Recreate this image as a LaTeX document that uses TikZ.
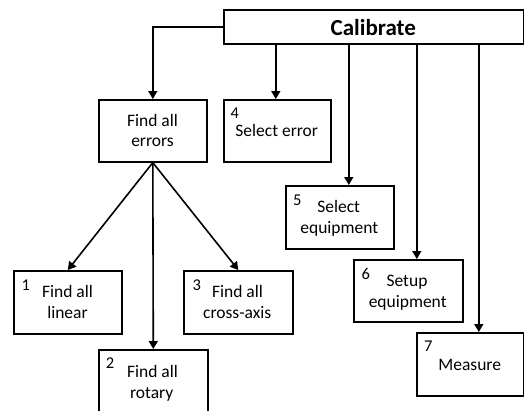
\documentclass[tikz,border=0pt]{standalone}
\usepackage{fontspec}
\setmainfont{Carlito}
\usetikzlibrary{arrows.meta}
\begin{document}
\begin{tikzpicture}[x=1pt,y=-1pt,
  box/.style={draw=black,line width=1.6pt,fill=white,inner sep=0pt,anchor=north west},
  arr/.style={line width=1.6pt,-{Triangle[length=8pt,width=9pt]}},
  txt/.style={inner sep=0pt,anchor=base,font=\fontsize{17.5}{21}\selectfont},
  num/.style={inner sep=0pt,anchor=base west,font=\fontsize{16.5}{20}\selectfont}]
\useasboundingbox (0,0) rectangle (524,410);
\fill[white] (0,0) rectangle (524,410);
% boxes
\node[box,minimum width=300pt,minimum height=34pt] (cal) at (223,9) {};
\node[box,minimum width=108pt,minimum height=62pt] (err) at (98,99) {};
\node[box,minimum width=107pt,minimum height=62pt] (sel) at (223,99) {};
\node[box,minimum width=108pt,minimum height=63pt] (seq) at (285,185) {};
\node[box,minimum width=109pt,minimum height=62pt] (set) at (353,259) {};
\node[box,minimum width=107pt,minimum height=63pt] (mea) at (416,332) {};
\node[box,minimum width=108pt,minimum height=63pt] (lin) at (13,270) {};
\node[box,minimum width=109pt,minimum height=63pt] (crs) at (183,270) {};
\node[box,minimum width=109pt,minimum height=63pt] (rot) at (98,349) {};
% texts
\node[inner sep=0pt,anchor=base,font=\fontsize{23}{27}\selectfont\bfseries] (calT) at (373.3,35) {Calibrate};
\node[txt] (errT1) at (152.5,126) {Find all};
\node[txt] (errT2) at (152.5,146.7) {errors};
\node[num] (selN) at (230.3,118.3) {4};
\node[txt] (selT) at (276.7,136) {Select error};
\node[num] (linN) at (21.3,290) {1};
\node[txt] (linT1) at (67.5,297) {Find all};
\node[txt] (linT2) at (67.5,318) {linear};
\node[num] (crsN) at (192.3,290) {3};
\node[txt] (crsT1) at (237.5,297) {Find all};
\node[txt] (crsT2) at (237.2,318) {cross-axis};
\node[num] (rotN) at (105.6,368) {2};
\node[txt] (rotT1) at (152.5,377) {Find all};
\node[txt] (rotT2) at (151.7,398) {rotary};
\node[num] (seqN) at (292.9,205) {5};
\node[txt] (seqT1) at (338.7,212.7) {Select};
\node[txt] (seqT2) at (339.3,233.3) {equipment};
\node[num] (setN) at (361.3,279) {6};
\node[txt] (setT1) at (407,286.7) {Setup};
\node[txt] (setT2) at (407.7,307.3) {equipment};
\node[num] (meaN) at (423.9,351.7) {7};
\node[txt] (meaT) at (469.7,370) {Measure};
% connector entry points
\coordinate (selin) at ([xshift=-1.5pt]sel.north);
\coordinate (seqin) at ([xshift=9pt]seq.north);
\coordinate (setin) at ([xshift=8.5pt]set.north);
\coordinate (meain) at ([xshift=8.5pt]mea.north);
% connectors
\draw[arr] (cal.west) -| (err.north);
\draw[arr] (selin |- cal.south) -- (selin);
\draw[arr] (seqin |- cal.south) -- (seqin);
\draw[arr] (setin |- cal.south) -- (setin);
\draw[arr] (meain |- cal.south) -- (meain);
\draw[arr] (err.south) -- (lin.north);
\draw[arr] (err.south) -- (rot.north);
\draw[arr] (err.south) -- (crs.north);
\end{tikzpicture}
\end{document}
